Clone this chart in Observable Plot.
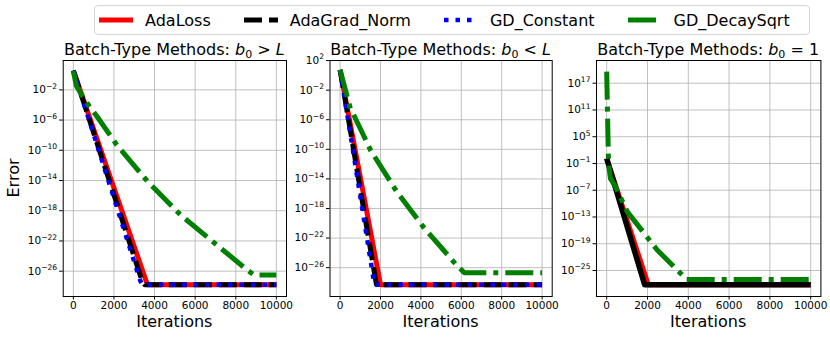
<!DOCTYPE html>
<html>
<head>
<meta charset="utf-8">
<script src="https://cdn.jsdelivr.net/npm/d3@7"></script>
<script src="https://cdn.jsdelivr.net/npm/@observablehq/plot@0.6"></script>
<style>
  html, body { margin: 0; padding: 0; background: #fff; }
  #root { position: relative; width: 830px; height: 337px; overflow: hidden; font-family: "DejaVu Sans", sans-serif; color: #000; }
  .panel { position: absolute; }
  .title { position: absolute; font-size: 16px; line-height: 16px; white-space: nowrap; transform: translateX(-50%); }
  .title sub { font-size: 11px; vertical-align: -3px; line-height: 0; }
  .xlabel { position: absolute; font-size: 16px; line-height: 16px; white-space: nowrap; transform: translateX(-50%); }
  .ylabel { position: absolute; font-size: 16px; line-height: 16px; white-space: nowrap; transform: translate(-50%, -50%) rotate(-90deg); }
  #legend { position: absolute; left: 94px; top: 5px; width: 716px; height: 30px; box-sizing: border-box; border: 1px solid #d4d4d4; border-radius: 4px; background: #fff; display: flex; align-items: center; padding-left: 4px; font-size: 16px; }
  .litem { display: flex; align-items: center; margin-right: 33px; }
  .litem svg { margin-right: 12px; }
</style>
</head>
<body>
<div id="root">
  <div id="legend"></div>
</div>
<script>
// ---------- data ----------
const seriesNames = ["AdaLoss", "AdaGrad_Norm", "GD_Constant", "GD_DecaySqrt"];
const seriesColors = ["#ff0000", "#000000", "#0000ff", "#008000"];
const xTicks = [0, 2000, 4000, 6000, 8000, 10000];

const p1YTicks = [1e-2, 1e-6, 1e-10, 1e-14, 1e-18, 1e-22, 1e-26];
const p2YTicks = [1e2, 1e-2, 1e-6, 1e-10, 1e-14, 1e-18, 1e-22, 1e-26];
const p3YTicks = [1e17, 1e11, 1e5, 1e-1, 1e-7, 1e-13, 1e-19, 1e-25];

// Panel 1: b0 > L   ([iteration, error])
const p1AdaLoss = [[0, 3.5], [3650, 1.6e-28], [10000, 1.6e-28]];
const p1AdaGradNorm = [[0, 3.5], [3400, 4e-28], [3520, 1.6e-28], [10000, 1.6e-28]];
const p1GDConstant = [[0, 3.5], [3300, 5e-28], [3420, 1.6e-28], [10000, 1.6e-28]];
const p1GDDecaySqrt = [[0, 3.2], [150, 3.2e-2], [444, 1.6e-3], [770, 8e-5], [1184, 2.5e-6], [2140, 5e-10],
  [3650, 8e-15], [5300, 2.5e-19], [7100, 2.5e-23], [8590, 1.26e-26], [8900, 3.2e-27], [10000, 3.2e-27]];

// Panel 2: b0 < L
const p2AdaLoss = [[0, 5.5], [2000, 5e-29], [10000, 5e-29]];
const p2AdaGradNorm = [[0, 5.5], [1800, 5e-29], [10000, 5e-29]];
const p2GDConstant = [[0, 5.5], [1700, 5e-29], [10000, 5e-29]];
const p2GDDecaySqrt = [[0, 5.5], [490, 5e-5], [1525, 6.3e-11], [2800, 2e-16], [4180, 2e-21], [5780, 2e-26],
  [6150, 2e-27], [10000, 2e-27]];

// Panel 3: b0 = 1 (GD_Constant diverged, not drawn)
const p3AdaLoss = [[0, 1.3], [2040, 6.3e-29], [10000, 6.3e-29]];
const p3AdaGradNorm = [[0, 1.3], [1860, 6.3e-29], [10000, 6.3e-29]];
const p3GDDecaySqrt = [[0, 4e19], [80, 6], [110, 1.6e-2], [186, 4e-5], [430, 6.3e-7], [1005, 1.6e-12],
  [2475, 4e-21], [3700, 1e-26], [3860, 1e-27], [10000, 1e-27]];

const panelTitles = [
  'Batch-Type Methods: <i>b</i><sub>0</sub> &gt; <i>L</i>',
  'Batch-Type Methods: <i>b</i><sub>0</sub> &lt; <i>L</i>',
  'Batch-Type Methods: <i>b</i><sub>0</sub> = 1'
];

// ---------- styles ----------
const lineStyles = {
  AdaLoss: { stroke: seriesColors[0], strokeWidth: 5, strokeDasharray: null },
  AdaGrad_Norm: { stroke: seriesColors[1], strokeWidth: 5, strokeDasharray: "18,7" },
  GD_Constant: { stroke: seriesColors[2], strokeWidth: 4.5, strokeDasharray: "4.5,7" },
  GD_DecaySqrt: { stroke: seriesColors[3], strokeWidth: 5, strokeDasharray: "28,7,5,7" }
};

const fmtPow = d => "10^" + Math.round(Math.log10(d));

function lineMark(data, name, override = {}) {
  const s = { ...lineStyles[name], ...override };
  const o = { x: d => d[0], y: d => d[1], stroke: s.stroke, strokeWidth: s.strokeWidth,
    strokeLinecap: "butt", strokeLinejoin: "round" };
  if (s.strokeDasharray) o.strokeDasharray = s.strokeDasharray;
  return Plot.line(data, o);
}

const root = document.getElementById("root");

function superscriptLabels(svg) {
  d3.select(svg).selectAll("text").each(function () {
    const txt = this.textContent;
    if (txt.indexOf("^") < 0) return;
    const [base, exp] = txt.split("^");
    const sel = d3.select(this);
    sel.text(null);
    sel.append("tspan").text(base);
    sel.append("tspan").attr("dy", "-4.5").attr("font-size", "7.6px").text(exp.replace("-", "\u2212"));
  });
}

function makePanel(cfg) {
  const plot = Plot.plot({
    width: cfg.width, height: 266,
    marginLeft: cfg.marginLeft, marginRight: cfg.marginRight, marginTop: 10, marginBottom: 20,
    style: { fontFamily: "DejaVu Sans", fontSize: "10.5px", background: "transparent", overflow: "visible", color: "#000" },
    x: { domain: [-500, 10500] },
    y: { type: "log", domain: cfg.yDomain },
    marks: [
      Plot.gridX(xTicks, { stroke: "#b0b0b0", strokeOpacity: 1, strokeWidth: 0.8 }),
      Plot.gridY(cfg.yTicks, { stroke: "#b0b0b0", strokeOpacity: 1, strokeWidth: 0.8 }),
      Plot.axisX(xTicks, { tickSize: 3.5, tickPadding: 2, label: null, tickFormat: d => String(d) }),
      Plot.axisY(cfg.yTicks, { tickSize: 3.5, tickPadding: 2.5, label: null, tickFormat: fmtPow }),
      ...cfg.lines,
      Plot.frame({ stroke: "#000", strokeWidth: 1 })
    ]
  });
  superscriptLabels(plot);
  plot.classList.add("panel");
  plot.style.left = cfg.left + "px";
  plot.style.top = "50px";
  root.appendChild(plot);

  const cx = cfg.left + cfg.marginLeft + (cfg.width - cfg.marginLeft - cfg.marginRight) / 2;
  const t = document.createElement("div");
  t.className = "title";
  t.innerHTML = cfg.title;
  t.style.left = cx + "px";
  t.style.top = "41.5px";
  root.appendChild(t);

  const xl = document.createElement("div");
  xl.className = "xlabel";
  xl.textContent = "Iterations";
  xl.style.left = cx + "px";
  xl.style.top = "313.5px";
  root.appendChild(xl);
}

makePanel({
  left: 0, width: 296, marginLeft: 62.7, marginRight: 10,
  yDomain: [10 ** -29.35, 10 ** 1.88], yTicks: p1YTicks, title: panelTitles[0],
  lines: [lineMark(p1AdaLoss, "AdaLoss"), lineMark(p1AdaGradNorm, "AdaGrad_Norm"),
          lineMark(p1GDConstant, "GD_Constant"), lineMark(p1GDDecaySqrt, "GD_DecaySqrt")]
});
makePanel({
  left: 288, width: 274, marginLeft: 41.5, marginRight: 10.3,
  yDomain: [10 ** -29.9, 10 ** 2.01], yTicks: p2YTicks, title: panelTitles[1],
  lines: [lineMark(p2AdaLoss, "AdaLoss"), lineMark(p2AdaGradNorm, "AdaGrad_Norm"),
          lineMark(p2GDConstant, "GD_Constant"), lineMark(p2GDDecaySqrt, "GD_DecaySqrt")]
});
makePanel({
  left: 556, width: 274, marginLeft: 40, marginRight: 9.6,
  yDomain: [10 ** -30.83, 10 ** 22.09], yTicks: p3YTicks, title: panelTitles[2],
  lines: [lineMark(p3AdaLoss, "AdaLoss"), lineMark(p3AdaGradNorm, "AdaGrad_Norm", { strokeDasharray: null, strokeWidth: 5.5 }),
          lineMark(p3GDDecaySqrt, "GD_DecaySqrt")]
});

// y label
const yl = document.createElement("div");
yl.className = "ylabel";
yl.textContent = "Error";
yl.style.left = "14.4px";
yl.style.top = "178px";
root.appendChild(yl);

// legend
const legend = document.getElementById("legend");
seriesNames.forEach((name, i) => {
  const s = lineStyles[name];
  const item = document.createElement("div");
  item.className = "litem";
  if (i === seriesNames.length - 1) item.style.marginRight = "0";
  const svg = d3.create("svg").attr("width", 34).attr("height", 10);
  const ln = svg.append("line").attr("x1", 0).attr("x2", 34).attr("y1", 5).attr("y2", 5)
    .attr("stroke", s.stroke).attr("stroke-width", s.strokeWidth).attr("stroke-linecap", "butt");
  if (s.strokeDasharray) ln.attr("stroke-dasharray", s.strokeDasharray);
  item.appendChild(svg.node());
  const span = document.createElement("span");
  span.textContent = name;
  item.appendChild(span);
  legend.appendChild(item);
});
</script>
</body>
</html>
